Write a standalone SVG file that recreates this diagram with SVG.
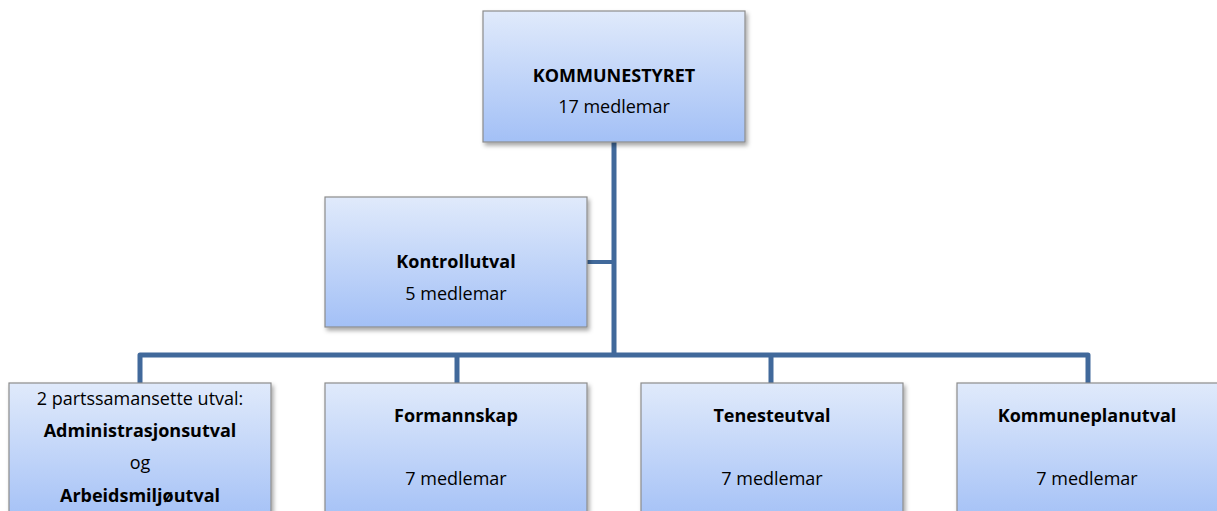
<svg xmlns="http://www.w3.org/2000/svg" width="1217" height="511" viewBox="0 0 1217 511">
<defs>
<linearGradient id="g" x1="0" y1="0" x2="0" y2="1">
<stop offset="0" stop-color="#e0eafb"/>
<stop offset="1" stop-color="#a3c0f6"/>
</linearGradient>
<filter id="sh" x="-10%" y="-10%" width="125%" height="130%">
<feDropShadow dx="2" dy="3" stdDeviation="2" flood-color="#000" flood-opacity="0.35"/>
</filter>
</defs>
<style>
.box{fill:url(#g);stroke:#8c8c8c;stroke-width:1.2;filter:url(#sh)}
.t{font-family:"Open Sans","Liberation Sans",sans-serif;font-size:18px;fill:#000;text-anchor:middle}
.b{font-weight:bold}
.c{fill:none;stroke:#41699b;stroke-width:5;stroke-linejoin:round}
</style>
<g id="connectors">
<path class="c" d="M614 142 V355"/>
<path class="c" d="M587 262 H614" style="stroke-width:4"/>
<path class="c" d="M140 383 V355 H1088 V383"/>
<path class="c" d="M457 355 V383"/>
<path class="c" d="M771 355 V383"/>
</g>
<g id="kommunestyret">
<rect class="box" x="483" y="11" width="262" height="131"/>
<text class="t b" x="614" y="82">KOMMUNESTYRET</text>
<text class="t" x="614" y="113">17 medlemar</text>
</g>
<g id="kontrollutval">
<rect class="box" x="325" y="197" width="262" height="130"/>
<text class="t b" x="456" y="268">Kontrollutval</text>
<text class="t" x="456" y="300">5 medlemar</text>
</g>
<g id="partssamansette">
<rect class="box" x="9" y="383" width="262" height="140"/>
<text class="t" x="140" y="405">2 partssamansette utval:</text>
<text class="t b" x="140" y="437">Administrasjonsutval</text>
<text class="t" x="140" y="469">og</text>
<text class="t b" x="140" y="502">Arbeidsmiljøutval</text>
</g>
<g id="formannskap">
<rect class="box" x="325" y="383" width="262" height="140"/>
<text class="t b" x="456" y="422">Formannskap</text>
<text class="t" x="456" y="485">7 medlemar</text>
</g>
<g id="tenesteutval">
<rect class="box" x="641" y="383" width="262" height="140"/>
<text class="t b" x="772" y="422">Tenesteutval</text>
<text class="t" x="772" y="485">7 medlemar</text>
</g>
<g id="kommuneplanutval">
<rect class="box" x="957" y="383" width="262" height="140"/>
<text class="t b" x="1087" y="422">Kommuneplanutval</text>
<text class="t" x="1087" y="485">7 medlemar</text>
</g>
</svg>
